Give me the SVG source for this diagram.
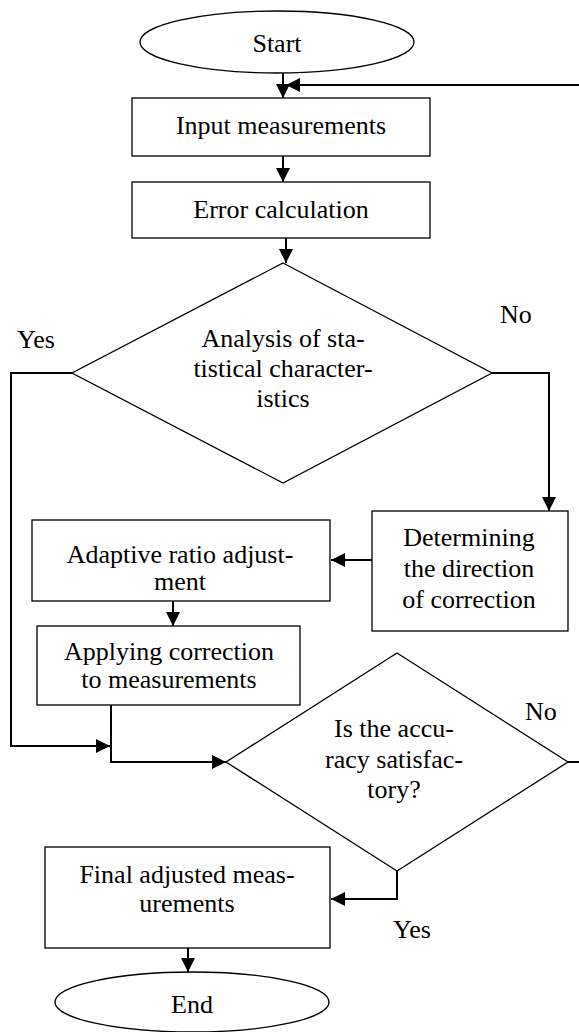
<svg xmlns="http://www.w3.org/2000/svg" width="579" height="1032" viewBox="0 0 579 1032" font-family="'Liberation Serif', 'Times New Roman', Times, 'DejaVu Serif', serif">
<style>
.shape{fill:#fff;stroke:#000;stroke-width:1.3}
.conn{fill:none;stroke:#000;stroke-width:2}
text{font-family:'Liberation Serif','Times New Roman',Times,'DejaVu Serif',serif;font-size:26px;fill:#000}
.c{text-anchor:middle}
</style>
<defs>
<marker id="ah" markerUnits="userSpaceOnUse" markerWidth="14" markerHeight="14" viewBox="0 0 14 14" refX="14" refY="7" orient="auto">
<path d="M0,0 L14,7 L0,14 Z" fill="#000"/>
</marker>
</defs>
<rect width="579" height="1032" fill="#fff"/>
<g id="connectors">
<path class="conn" d="M283,73 V98" marker-end="url(#ah)"/>
<path class="conn" d="M579,85 H286" marker-end="url(#ah)"/>
<path class="conn" d="M283,156 V182" marker-end="url(#ah)"/>
<path class="conn" d="M286,238 V263" marker-end="url(#ah)"/>
<path class="conn" d="M492,373 H549 V511" marker-end="url(#ah)"/>
<path class="conn" d="M372,560 H331" marker-end="url(#ah)"/>
<path class="conn" d="M173,601 V626" marker-end="url(#ah)"/>
<path class="conn" d="M72,373 H11 V746 H110" marker-end="url(#ah)"/>
<path class="conn" d="M111,705 V762 H226" marker-end="url(#ah)"/>
<path class="conn" d="M568,762 H579"/>
<path class="conn" d="M397,871 V899 H331" marker-end="url(#ah)"/>
<path class="conn" d="M188,948 V972" marker-end="url(#ah)"/>
</g>
<g id="start">
<ellipse class="shape" cx="277" cy="42" rx="137" ry="31"/>
<text class="c" x="277" y="52">Start</text>
</g>
<g id="input">
<rect class="shape" x="132" y="98" width="298" height="58"/>
<text class="c" x="281" y="134">Input measurements</text>
</g>
<g id="error">
<rect class="shape" x="132" y="182" width="298" height="56"/>
<text class="c" x="281" y="218">Error calculation</text>
</g>
<g id="analysis">
<polygon class="shape" points="283,263 492,373 283,483 72,373"/>
<text class="c" x="283" y="347">Analysis of sta-</text>
<text class="c" x="283" y="377">tistical character-</text>
<text class="c" x="283" y="407">istics</text>
</g>
<g id="label-yes1"><text x="17" y="348">Yes</text></g>
<g id="label-no1"><text x="500" y="323">No</text></g>
<g id="determining">
<rect class="shape" x="372" y="511" width="196" height="120"/>
<text class="c" x="469" y="546">Determining</text>
<text class="c" x="469" y="577">the direction</text>
<text class="c" x="469" y="608">of correction</text>
</g>
<g id="adaptive">
<rect class="shape" x="32" y="520" width="298" height="81"/>
<text class="c" x="180" y="563">Adaptive ratio adjust-</text>
<text class="c" x="180" y="590">ment</text>
</g>
<g id="applying">
<rect class="shape" x="37" y="626" width="263" height="79"/>
<text class="c" x="169" y="660">Applying correction</text>
<text class="c" x="169" y="688">to measurements</text>
</g>
<g id="accuracy">
<polygon class="shape" points="397,653 568,762 397,871 226,762"/>
<text class="c" x="394" y="737">Is the accu-</text>
<text class="c" x="394" y="768">racy satisfac-</text>
<text class="c" x="394" y="798">tory?</text>
</g>
<g id="label-no2"><text x="525" y="720">No</text></g>
<g id="label-yes2"><text x="393" y="938">Yes</text></g>
<g id="final">
<rect class="shape" x="45" y="847" width="285" height="101"/>
<text class="c" x="187" y="883">Final adjusted meas-</text>
<text class="c" x="187" y="912">urements</text>
</g>
<g id="end">
<ellipse class="shape" cx="192" cy="1002" rx="137" ry="30"/>
<text class="c" x="192" y="1013">End</text>
</g>
</svg>
